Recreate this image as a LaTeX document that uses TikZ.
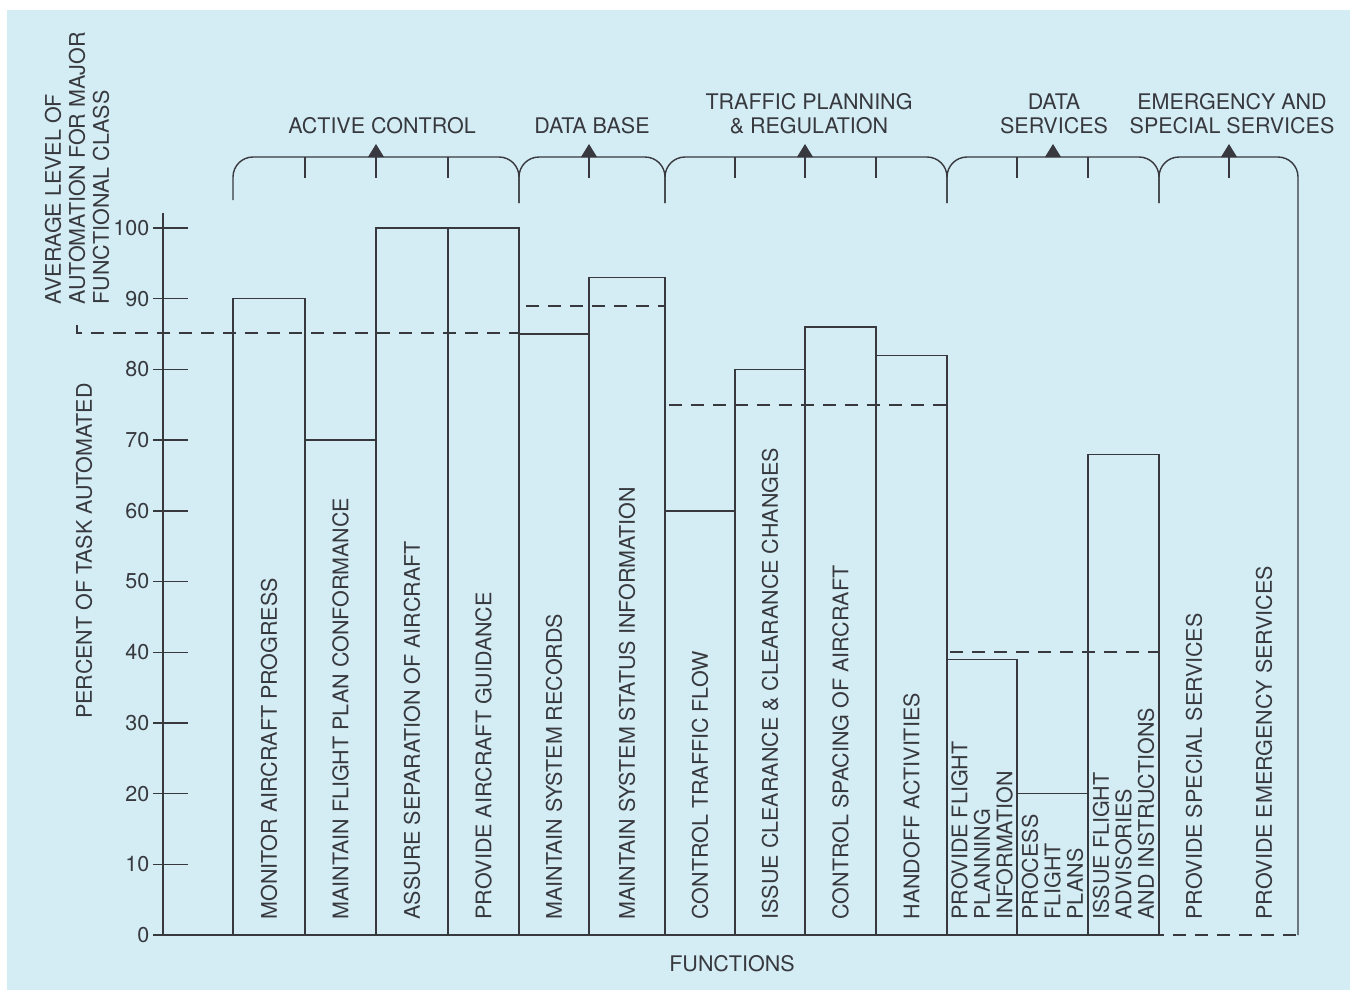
\documentclass[tikz,border=0pt]{standalone}
\usepackage{fontspec}
\setmainfont{TeX Gyre Heros}
\definecolor{paper}{RGB}{212,237,245}
\definecolor{ink}{RGB}{55,57,62}

\begin{document}
\begin{tikzpicture}[x=1pt,y=-1pt,color=ink,line width=1.4pt,
		font=\fontsize{21.5}{22.5}\selectfont,
		task/.style={rotate=90,anchor=west,align=left,inner sep=0pt},
		class/.style={align=center,inner sep=0pt},
		average/.style={dash pattern=on 13pt off 9pt,line width=2.2pt}]
		
		\useasboundingbox (0,0) rectangle (1355,994);
		\fill[paper] (7,10) rectangle (1350,990);
		
		%Axis titles
		\node[rotate=90,inner sep=0pt] (ytitle) at (84,551) {PERCENT OF TASK AUTOMATED};
		\node[inner sep=0pt] (xtitle) at (732,964) {FUNCTIONS};
		\node[task,font=\fontsize{21.5}{24}\selectfont] (avg) at (77,305) {AVERAGE LEVEL OF\\AUTOMATION FOR MAJOR\\FUNCTIONAL CLASS};
		
		%Scale and bars, heights in percent
		\begin{scope}[shift={(0,935)},y=7.07pt]
		\draw (163,0) -- (163,102.1);
		\foreach \p in {0,10,...,100}{
			\draw (153,\p) -- (188,\p);
			\node[anchor=east,inner sep=0pt] (n\p) at (150,\p) {\p};
		}
		
		%Active control
		\draw (233,0) rectangle (305,90);
		\node[task] (t1) at (269,2.1) {MONITOR AIRCRAFT PROGRESS};
		\draw (305,0) rectangle (376,70);
		\node[task] (t2) at (340.5,2.1) {MAINTAIN FLIGHT PLAN CONFORMANCE};
		\draw (376,0) rectangle (448,100);
		\node[task] (t3) at (412,2.1) {ASSURE SEPARATION OF AIRCRAFT};
		\draw (448,0) rectangle (519,100);
		\node[task] (t4) at (483.5,2.1) {PROVIDE AIRCRAFT GUIDANCE};
		
		%Data base
		\draw (519,0) rectangle (589,85);
		\node[task] (t5) at (554,2.1) {MAINTAIN SYSTEM RECORDS};
		\draw (589,0) rectangle (665,93);
		\node[task] (t6) at (627,2.1) {MAINTAIN SYSTEM STATUS INFORMATION};
		
		%Traffic planning
		\draw (665,0) rectangle (735,60);
		\node[task] (t7) at (700,2.1) {CONTROL TRAFFIC FLOW};
		\draw (735,0) rectangle (805,80);
		\node[task] (t8) at (770,2.1) {ISSUE CLEARANCE \& CLEARANCE CHANGES};
		\draw (805,0) rectangle (876,86);
		\node[task] (t9) at (840.5,2.1) {CONTROL SPACING OF AIRCRAFT};
		\draw (876,0) rectangle (947,82);
		\node[task] (t10) at (911.5,2.1) {HANDOFF ACTIVITIES};
		
		%Data services
		\draw (947,0) rectangle (1017,39);
		\node[task] (t11) at (982,2.1) {PROVIDE FLIGHT\\PLANNING\\INFORMATION};
		\draw (1017,0) rectangle (1088,20);
		\node[task] (t12) at (1052.5,2.1) {PROCESS\\FLIGHT\\PLANS};
		\draw (1088,0) rectangle (1159,68);
		\node[task] (t13) at (1123.5,2.1) {ISSUE FLIGHT\\ADVISORIES\\AND INSTRUCTIONS};
		
		%Emergency and special
		\node[task] (t14) at (1194,2.1) {PROVIDE SPECIAL SERVICES};
		\node[task] (t15) at (1264,2.1) {PROVIDE EMERGENCY SERVICES};
		\end{scope}
		
		\draw (163,935) -- (1159,935);
		
		%Class averages
		\draw[average] (77,325) -- (77,333) -- (519,333) -- (519,306) -- (665,306) -- (665,405)
			-- (947,405) -- (947,652) -- (1159,652) -- (1159,935) -- (1298,935);
		
		%Brackets
		\draw[rounded corners=20pt] (233,200) -- (233,157) -- (519,157) -- (519,203);
		\draw[rounded corners=20pt] (519,203) -- (519,157) -- (665,157) -- (665,203);
		\draw[rounded corners=20pt] (665,203) -- (665,157) -- (947,157) -- (947,203);
		\draw[rounded corners=20pt] (947,203) -- (947,157) -- (1159,157) -- (1159,203);
		\draw[rounded corners=20pt] (1159,203) -- (1159,157) -- (1298,157) -- (1298,935);
		
		\draw (305,157) -- (305,178);
		\draw (376,157) -- (376,178);
		\draw (448,157) -- (448,178);
		\draw (589,157) -- (589,178);
		\draw (735,157) -- (735,178);
		\draw (805,157) -- (805,178);
		\draw (876,157) -- (876,178);
		\draw (1017,157) -- (1017,178);
		\draw (1088,157) -- (1088,178);
		\draw (1229,157) -- (1229,178);
		
		\fill (368,157) -- (376,144) -- (384,157) -- cycle;
		\fill (581,157) -- (589,144) -- (597,157) -- cycle;
		\fill (797,157) -- (805,144) -- (813,157) -- cycle;
		\fill (1045,157) -- (1053,144) -- (1061,157) -- cycle;
		\fill (1221,157) -- (1229,144) -- (1237,157) -- cycle;
		
		%Class names
		\node[class] (ac) at (382,125.5) {ACTIVE CONTROL};
		\node[class] (db) at (592,125.5) {DATA BASE};
		\node[class,font=\fontsize{21.5}{24}\selectfont] (tp) at (809,113.5) {TRAFFIC PLANNING\\\& REGULATION};
		\node[class,font=\fontsize{21.5}{24}\selectfont] (ds) at (1054,113.5) {DATA\\SERVICES};
		\node[class,font=\fontsize{21.5}{24}\selectfont] (es) at (1232,113.5) {EMERGENCY AND\\SPECIAL SERVICES};
		
	\end{tikzpicture}
\end{document}
